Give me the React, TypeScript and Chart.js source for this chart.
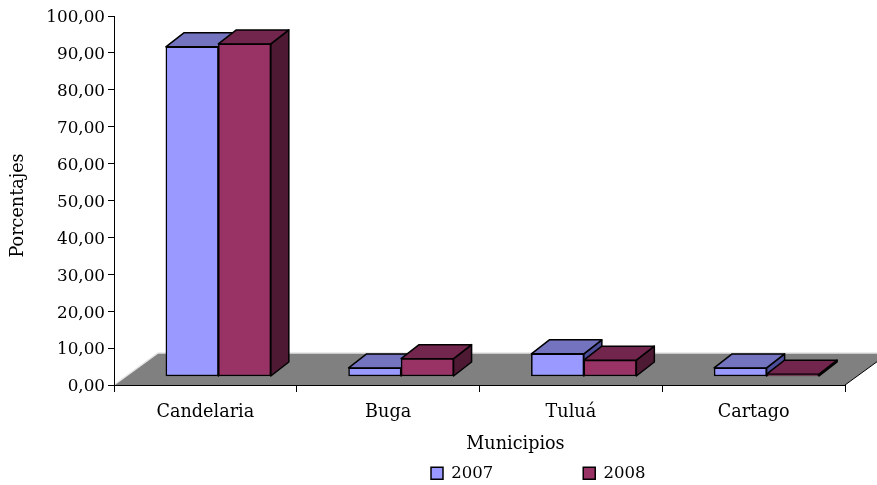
import React, { useEffect, useRef } from "react";
import { Chart, registerables } from "chart.js";

Chart.register(...registerables);

const categories = ["Candelaria", "Buga", "Tuluá", "Cartago"];
const categoryPositions = [0, 1, 2, 3];
const seriesSlots = [-0.1436, 0.1436];
const series2007 = [89.2, 2.2, 6.0, 2.2];
const series2008 = [90.0, 4.7, 4.3, 0.5];
const seriesNames = ["2007", "2008"];
const yTickLabels = ["0,00", "10,00", "20,00", "30,00", "40,00", "50,00", "60,00", "70,00", "80,00", "90,00", "100,00"];

const FONT = "'DejaVu Serif'";
const DEPTH_X = 18;
const DEPTH_Y = -14;
const shades = [
  { face: "#9999FF", top: "#7373BF", side: "#4D4D99" },
  { face: "#993366", top: "#73264D", side: "#4D1933" },
];

const poly = (ctx: CanvasRenderingContext2D, pts: number[][], fill: string) => {
  ctx.beginPath();
  pts.forEach(([x, y], i) => (i ? ctx.lineTo(x, y) : ctx.moveTo(x, y)));
  ctx.closePath();
  ctx.fillStyle = fill;
  ctx.fill();
  ctx.stroke();
};

const floorPlugin = {
  id: "floor",
  beforeDraw(chart: any) {
    const { ctx, chartArea: a } = chart;
    const dx = 44;
    const dy = -32;
    ctx.save();
    ctx.beginPath();
    ctx.moveTo(a.left, a.bottom);
    ctx.lineTo(a.right, a.bottom);
    ctx.lineTo(a.right + dx, a.bottom + dy);
    ctx.lineTo(a.left + dx, a.bottom + dy);
    ctx.closePath();
    ctx.fillStyle = "#808080";
    ctx.fill();
    ctx.strokeStyle = "#e4e4e4";
    ctx.lineWidth = 1.5;
    ctx.beginPath();
    ctx.moveTo(a.left, a.bottom);
    ctx.lineTo(a.left + dx, a.bottom + dy);
    ctx.lineTo(a.right + dx, a.bottom + dy);
    ctx.stroke();
    ctx.strokeStyle = "#000";
    ctx.lineWidth = 1;
    ctx.beginPath();
    ctx.moveTo(a.right, a.bottom);
    ctx.lineTo(a.right + dx, a.bottom + dy);
    ctx.stroke();
    ctx.restore();
  },
};

const depthPlugin = {
  id: "depth",
  beforeDatasetDraw(chart: any, args: any) {
    const { ctx } = chart;
    const shade = shades[args.index];
    ctx.save();
    ctx.strokeStyle = "#000";
    ctx.lineWidth = 1.5;
    ctx.lineJoin = "round";
    args.meta.data.forEach((bar: any) => {
      const l = bar.x - bar.width / 2;
      const r = bar.x + bar.width / 2;
      const t = bar.y;
      const b = bar.base;
      poly(ctx, [[r, t], [r + DEPTH_X, t + DEPTH_Y], [r + DEPTH_X, b + DEPTH_Y], [r, b]], shade.side);
      poly(ctx, [[l, t], [r, t], [r + DEPTH_X, t + DEPTH_Y], [l + DEPTH_X, t + DEPTH_Y]], shade.top);
    });
    ctx.restore();
  },
};

const legendPlacementPlugin = {
  id: "legendPlacement",
  beforeLayout(chart: any) {
    const legend = chart.legend;
    if (legend && !legend.__patched) {
      const fit = legend.fit;
      legend.fit = function () {
        fit.call(this);
        this.height = 0;
      };
      legend.__patched = true;
    }
  },
  afterLayout(chart: any) {
    const legend = chart.legend;
    const gap = legend.options.labels.padding;
    legend.left = 431 - gap;
    legend.right = legend.left + 500;
    legend.top = 465 - gap;
  },
};

// Shift an axis title along its axis, since Chart.js can only centre it on the chart area.
const nudgeTitle = (scale: any, dx: number, dy: number) => {
  if (scale.__nudged) return;
  const draw = scale.drawTitle;
  scale.drawTitle = function () {
    const ctx = this.ctx;
    ctx.save();
    ctx.translate(dx, dy);
    draw.call(this);
    ctx.restore();
  };
  scale.__nudged = true;
};

export default function App() {
  const ref = useRef<HTMLCanvasElement>(null);
  useEffect(() => {
    const axisFont = { family: FONT, size: 16.8 };
    const labelFont = { family: FONT, size: 17.6 };
    const chart = new Chart(ref.current!, {
      type: "bar",
      data: {
        labels: categories,
        datasets: [series2007, series2008].map((values, i) => ({
          label: seriesNames[i],
          data: values.map((y, k) => ({ x: categoryPositions[k] + seriesSlots[i], y })),
          xAxisID: "xBars",
          yAxisID: "yBars",
          grouped: false,
          order: 2 - i,
          backgroundColor: shades[i].face,
          borderColor: "#000",
          borderWidth: 1.5,
          borderSkipped: false,
          barPercentage: 1,
          categoryPercentage: 1,
        })),
      },
      options: {
        animation: false,
        responsive: false,
        layout: { padding: { top: 16, right: 32, left: 0, bottom: 0 } },
        plugins: {
          tooltip: { enabled: false },
          legend: {
            position: "bottom",
            align: "start",
            labels: {
              font: { family: FONT, size: 16.5 },
              color: "#000",
              boxWidth: 12,
              boxHeight: 12,
              padding: 90,
              sort: (a: any, b: any) => a.datasetIndex - b.datasetIndex,
            },
          },
        },
        scales: {
          x: {
            type: "category",
            offset: true,
            grid: { offset: true, drawOnChartArea: false, drawTicks: true, tickLength: 7, tickColor: "#000" },
            border: { color: "#000", width: 1 },
            ticks: { font: labelFont, color: "#000", padding: 10, maxRotation: 0 },
            title: { display: true, text: "Municipios", font: labelFont, color: "#000", padding: { top: 0, bottom: 30 } },
            afterFit: (s: any) => {
              s.height = 100;
              nudgeTitle(s, 36, 0);
            },
          },
          y: {
            type: "linear",
            min: 0,
            max: 100,
            grid: { drawOnChartArea: false, drawTicks: true, tickLength: 6, tickColor: "#000" },
            border: { color: "#000", width: 1 },
            ticks: {
              font: axisFont,
              color: "#000",
              padding: 3,
              stepSize: 10,
              labelOffset: 2,
              callback: (_v: any, i: number) => yTickLabels[i],
            },
            title: { display: true, text: "Porcentajes", font: labelFont, color: "#000", padding: { top: 8, bottom: 0 } },
            afterFit: (s: any) => {
              s.width = 114;
              nudgeTitle(s, 0, 5);
            },
          },
          xBars: {
            type: "linear",
            display: false,
            offset: false,
            grid: { offset: false },
            min: -0.571,
            max: 3.429,
            ticks: { stepSize: 1, includeBounds: false },
          },
          yBars: { type: "linear", display: false, min: -2.44, max: 97.56 },
        },
      },
      plugins: [floorPlugin, depthPlugin, legendPlacementPlugin],
    } as any);
    return () => chart.destroy();
  }, []);
  return (
    <div style={{ position: "absolute", left: 0, top: 0, width: 877, height: 485 }}>
      <canvas ref={ref} width={877} height={485} style={{ display: "block" }} />
    </div>
  );
}
